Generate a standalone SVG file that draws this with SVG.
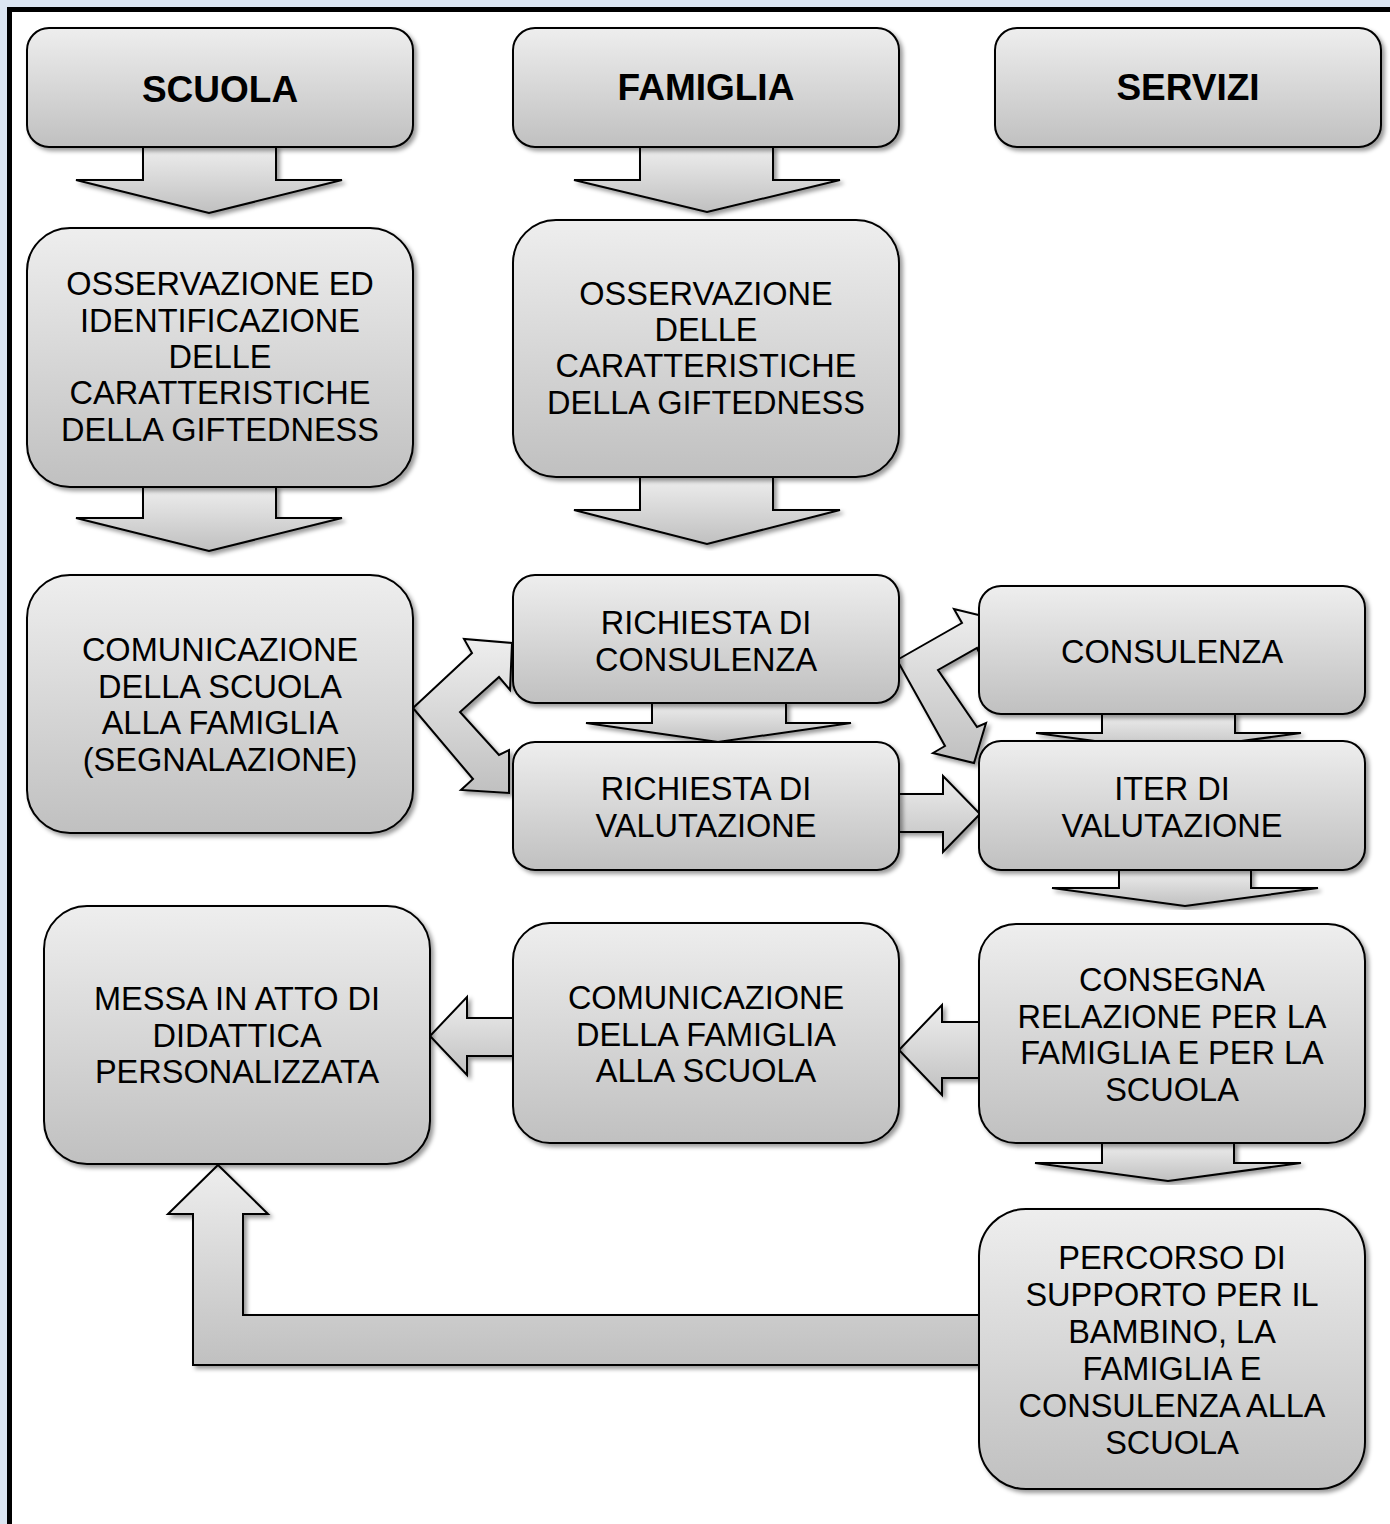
<svg xmlns="http://www.w3.org/2000/svg" width="1390" height="1524" viewBox="0 0 1390 1524">
<defs>
<linearGradient id="g" x1="0" y1="0" x2="0" y2="1">
<stop offset="0" stop-color="#eeeeee"/>
<stop offset="1" stop-color="#c0c0c0"/>
</linearGradient>
<filter id="sh" x="-10%" y="-10%" width="120%" height="120%">
<feDropShadow dx="3" dy="3" stdDeviation="2" flood-color="#000" flood-opacity="0.4"/>
</filter>
<style>
.n{fill:url(#g);stroke:#000;stroke-width:2;filter:url(#sh)}
.a{fill:url(#g);stroke:#000;stroke-width:2;stroke-linejoin:miter;filter:url(#sh)}
.t{font-family:"Liberation Sans",Arial,sans-serif;font-size:32.5px;fill:#000;text-anchor:middle}
.h{font-family:"Liberation Sans",Arial,sans-serif;font-size:37px;font-weight:bold;fill:#000;text-anchor:middle}
</style>
</defs>
<rect x="0" y="0" width="1390" height="1524" fill="#dce6f2"/>
<rect x="9.5" y="9.5" width="1400" height="1540" fill="#fff" stroke="#000" stroke-width="5"/>

<g id="connectors">
<polygon class="a" points="143,147 276,147 276,180 342,180 209,213 76,180 143,180"/>
<polygon class="a" points="640,147 773,147 773,180 840,180 707,212 574,180 640,180"/>
<polygon class="a" points="143,487 276,487 276,518 342,518 209,551 76,518 143,518"/>
<polygon class="a" points="640,477 773,477 773,510 840,510 707,544 574,510 640,510"/>
<polygon class="a" points="652,703 786,703 786,723 851,723 718,742 586,723 652,723"/>
<polygon class="a" points="1102,714 1235,714 1235,733 1301,733 1168,751 1036,733 1102,733"/>
<polygon class="a" points="1119,870 1251,870 1251,888 1318,888 1185,906 1052,888 1119,888"/>
<polygon class="a" points="1102,1143 1234,1143 1234,1163 1301,1163 1168,1181 1035,1163 1102,1163"/>
<polygon class="a" points="979,1022 942,1022 942,1005 899,1050 942,1095 942,1078 979,1078"/>
<polygon class="a" points="513,1018 467,1018 467,997 430,1036 467,1075 467,1056 513,1056"/>
<polygon class="a" points="899,794 943,794 943,776 980,814 943,852 943,832 899,832"/>
<polygon class="a" points="413,708 472,653 464,639 512,643 510,690 499,677 460,712 499,755 509,750 509,793 461,790 473,779"/>
<polygon class="a" points="897,660 962,623 954,609 995,619 983,660 977,648 938,670 977,727 986,723 974,763 933,753 945,746"/>
<polygon class="a" points="218,1165 268,1214 243,1214 243,1315 979,1315 979,1365 193,1365 193,1214 168,1214"/>
</g>

<g id="scuola"><rect class="n" x="27" y="28" width="386" height="119" rx="22"/><text class="h" x="220" y="102">SCUOLA</text></g>
<g id="famiglia"><rect class="n" x="513" y="28" width="386" height="119" rx="22"/><text class="h" x="706" y="100">FAMIGLIA</text></g>
<g id="servizi"><rect class="n" x="995" y="28" width="386" height="119" rx="22"/><text class="h" x="1188" y="100">SERVIZI</text></g>

<g id="oss-scuola"><rect class="n" x="27" y="228" width="386" height="259" rx="43"/>
<text class="t" x="220" y="295">OSSERVAZIONE ED</text><text class="t" x="220" y="332">IDENTIFICAZIONE</text><text class="t" x="220" y="368">DELLE</text><text class="t" x="220" y="404">CARATTERISTICHE</text><text class="t" x="220" y="441">DELLA GIFTEDNESS</text></g>

<g id="oss-famiglia"><rect class="n" x="513" y="220" width="386" height="257" rx="43"/>
<text class="t" x="706" y="305">OSSERVAZIONE</text><text class="t" x="706" y="341">DELLE</text><text class="t" x="706" y="377">CARATTERISTICHE</text><text class="t" x="706" y="414">DELLA GIFTEDNESS</text></g>

<g id="comunicazione-scuola"><rect class="n" x="27" y="575" width="386" height="258" rx="43"/>
<text class="t" x="220" y="661">COMUNICAZIONE</text><text class="t" x="220" y="698">DELLA SCUOLA</text><text class="t" x="220" y="734">ALLA FAMIGLIA</text><text class="t" x="220" y="771">(SEGNALAZIONE)</text></g>

<g id="richiesta-consulenza"><rect class="n" x="513" y="575" width="386" height="128" rx="22"/>
<text class="t" x="706" y="634">RICHIESTA DI</text><text class="t" x="706" y="671">CONSULENZA</text></g>

<g id="richiesta-valutazione"><rect class="n" x="513" y="742" width="386" height="128" rx="22"/>
<text class="t" x="706" y="800">RICHIESTA DI</text><text class="t" x="706" y="837">VALUTAZIONE</text></g>

<g id="consulenza"><rect class="n" x="979" y="586" width="386" height="128" rx="22"/>
<text class="t" x="1172" y="663">CONSULENZA</text></g>

<g id="iter"><rect class="n" x="979" y="741" width="386" height="129" rx="22"/>
<text class="t" x="1172" y="800">ITER DI</text><text class="t" x="1172" y="837">VALUTAZIONE</text></g>

<g id="messa"><rect class="n" x="44" y="906" width="386" height="258" rx="43"/>
<text class="t" x="237" y="1010">MESSA IN ATTO DI</text><text class="t" x="237" y="1047">DIDATTICA</text><text class="t" x="237" y="1083">PERSONALIZZATA</text></g>

<g id="comunicazione-famiglia"><rect class="n" x="513" y="923" width="386" height="220" rx="37"/>
<text class="t" x="706" y="1009">COMUNICAZIONE</text><text class="t" x="706" y="1046">DELLA FAMIGLIA</text><text class="t" x="706" y="1082">ALLA SCUOLA</text></g>

<g id="consegna"><rect class="n" x="979" y="924" width="386" height="219" rx="37"/>
<text class="t" x="1172" y="991">CONSEGNA</text><text class="t" x="1172" y="1028">RELAZIONE PER LA</text><text class="t" x="1172" y="1064">FAMIGLIA E PER LA</text><text class="t" x="1172" y="1101">SCUOLA</text></g>

<g id="percorso"><rect class="n" x="979" y="1209" width="386" height="280" rx="47"/>
<text class="t" x="1172" y="1269">PERCORSO DI</text><text class="t" x="1172" y="1306">SUPPORTO PER IL</text><text class="t" x="1172" y="1343">BAMBINO, LA</text><text class="t" x="1172" y="1380">FAMIGLIA E</text><text class="t" x="1172" y="1417">CONSULENZA ALLA</text><text class="t" x="1172" y="1454">SCUOLA</text></g>
</svg>
